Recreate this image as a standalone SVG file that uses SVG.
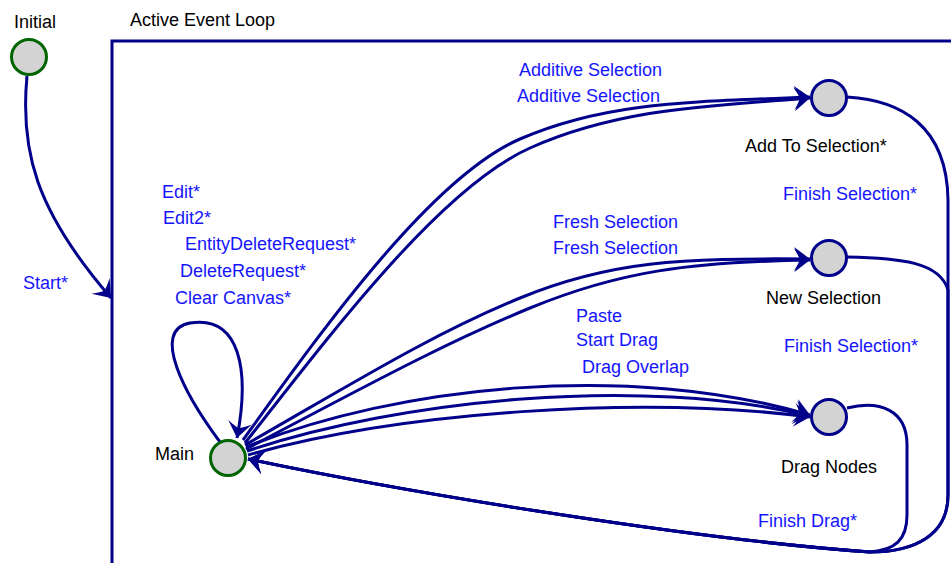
<svg xmlns="http://www.w3.org/2000/svg" width="951" height="563" viewBox="0 0 951 563">
  <style>
    text { font-family: "Liberation Sans", Arial, sans-serif; font-size: 18px; }
    .lbl { fill: #000000; }
    .ev { fill: #1414ff; }
    .edge { fill: none; stroke: #00008b; stroke-width: 3; }
    .st { fill: #d3d3d3; stroke: #00008b; stroke-width: 3; }
    .st0 { fill: #d3d3d3; stroke: #006400; stroke-width: 3; }
    .box { fill: none; stroke: #00008b; stroke-width: 3; }
  </style>
  <defs>
    <marker id="arr" markerUnits="userSpaceOnUse" viewBox="-17 -13 18 26" markerWidth="18" markerHeight="26" refX="0" refY="0" orient="auto">
      <path d="M0,0 L-16,-12 Q-11,-4 -10,0 Q-11,4 -16,12 Z" fill="#00008b"/>
    </marker>
  </defs>

  <g id="container">
    <rect class="box" x="112" y="41" width="900" height="600"/>
    <text class="lbl" x="130" y="26">Active Event Loop</text>
  </g>

  <g id="connectors">
    <path class="edge" d="M27,76 C20,150 35,210 111,298" marker-end="url(#arr)"/>
    <path class="edge" d="M220,442 C185,395 150,330 190,323 C240,315 250,370 237,438" marker-end="url(#arr)"/>
    <path class="edge" d="M243,440 C320,333 430,178 520,139 S700,102 810,97" marker-end="url(#arr)"/>
    <path class="edge" d="M245,443 C330,335 440,188 530,148 S710,106 810,98" marker-end="url(#arr)"/>
    <path class="edge" d="M245,445 C350,385 430,335 520,298 S680,258 810,259" marker-end="url(#arr)"/>
    <path class="edge" d="M246,449 C355,392 440,345 530,308 S690,262 810,260" marker-end="url(#arr)"/>
    <path class="edge" d="M246,447 C400,385 630,362 810,415" marker-end="url(#arr)"/>
    <path class="edge" d="M247,451 C400,400 640,375 810,416" marker-end="url(#arr)"/>
    <path class="edge" d="M248,455 C400,412 640,395 810,417" marker-end="url(#arr)"/>
    <path class="edge" d="M847,97 C900,100 947,125 948,200 L948,495 C948,535 915,552 870,552 C700,540 420,495 248,459" marker-end="url(#arr)"/>
    <path class="edge" d="M847,257 C900,258 940,262 948,290 L948,495 C948,535 915,552 870,552 C700,540 420,495 248,459" marker-end="url(#arr)"/>
    <path class="edge" d="M847,408 C880,400 907,410 907,445 L907,515 C907,540 895,550 870,552 C700,540 420,495 248,459" marker-end="url(#arr)"/>
  </g>

  <g id="edge-labels">
    <text class="ev" x="23" y="289">Start*</text>
    <text class="ev" x="162" y="198">Edit*</text>
    <text class="ev" x="163" y="224">Edit2*</text>
    <text class="ev" x="185" y="250">EntityDeleteRequest*</text>
    <text class="ev" x="180" y="277">DeleteRequest*</text>
    <text class="ev" x="175" y="304">Clear Canvas*</text>
    <text class="ev" x="519" y="76">Additive Selection</text>
    <text class="ev" x="517" y="102">Additive Selection</text>
    <text class="ev" x="553" y="228">Fresh Selection</text>
    <text class="ev" x="553" y="254">Fresh Selection</text>
    <text class="ev" x="576" y="322">Paste</text>
    <text class="ev" x="576" y="346">Start Drag</text>
    <text class="ev" x="582" y="373">Drag Overlap</text>
    <text class="ev" x="783" y="200">Finish Selection*</text>
    <text class="ev" x="784" y="352">Finish Selection*</text>
    <text class="ev" x="758" y="527">Finish Drag*</text>
  </g>

  <g id="node-initial">
    <circle class="st0" cx="29" cy="57" r="17.5"/>
    <text class="lbl" x="14" y="28">Initial</text>
  </g>
  <g id="node-main">
    <circle class="st0" cx="228" cy="458" r="17.5"/>
    <text class="lbl" x="155" y="460">Main</text>
  </g>
  <g id="node-add">
    <circle class="st" cx="829" cy="98" r="17.5"/>
    <text class="lbl" x="745" y="152">Add To Selection*</text>
  </g>
  <g id="node-new">
    <circle class="st" cx="829" cy="258" r="17.5"/>
    <text class="lbl" x="766" y="304">New Selection</text>
  </g>
  <g id="node-drag">
    <circle class="st" cx="829" cy="417" r="17.5"/>
    <text class="lbl" x="781" y="473">Drag Nodes</text>
  </g>
</svg>
